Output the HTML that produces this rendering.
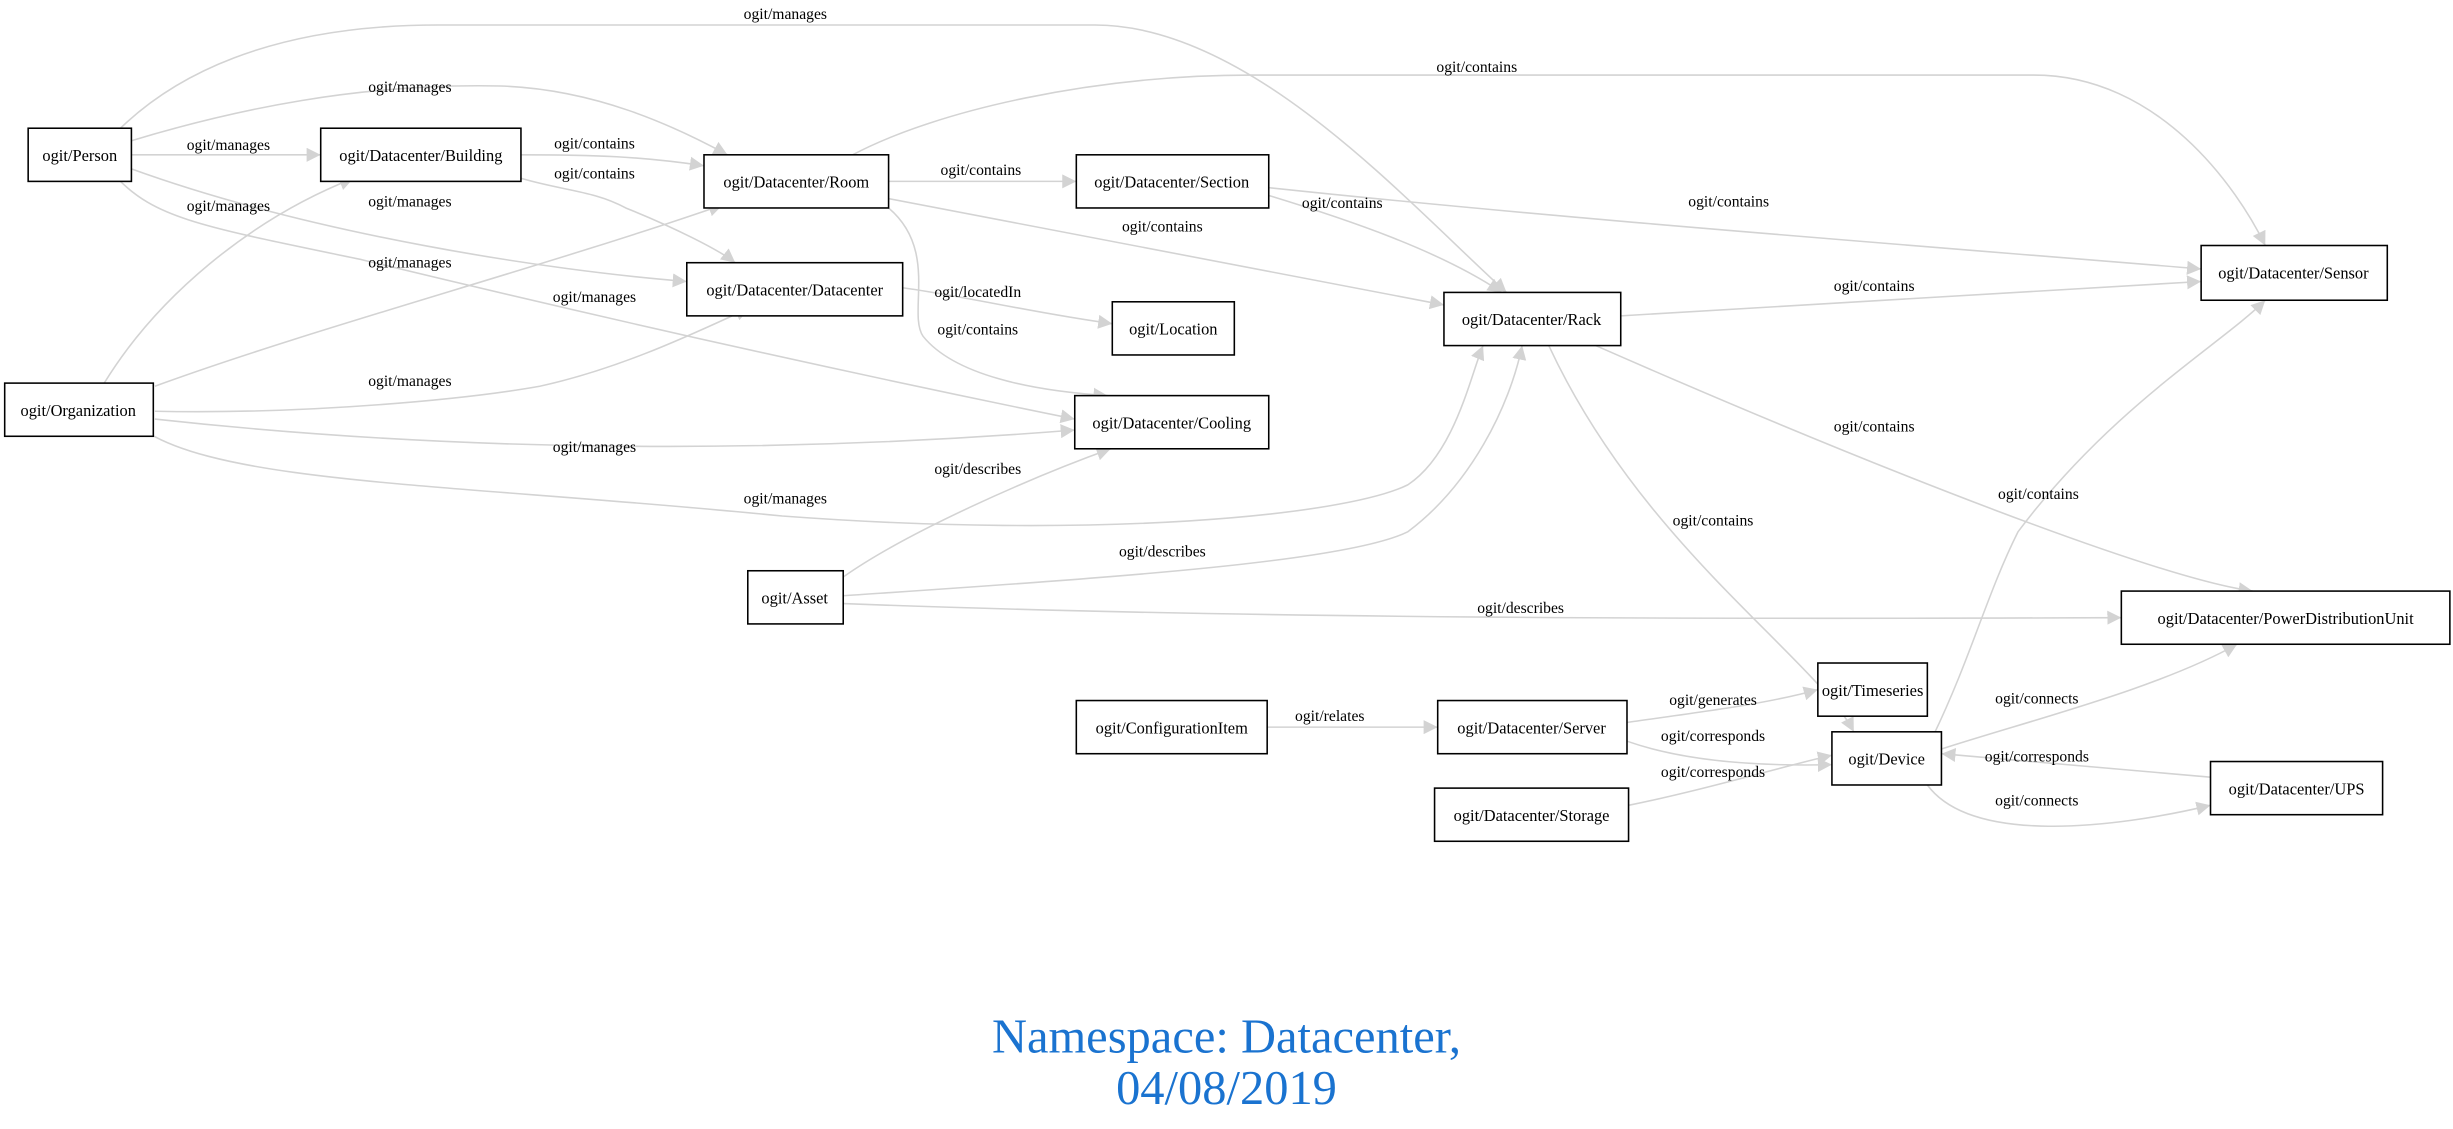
<!DOCTYPE html>
<html><head><meta charset="utf-8"><style>html,body{margin:0;padding:0;background:#fff}svg{display:block}</style></head><body>
<svg xmlns="http://www.w3.org/2000/svg" width="2453" height="1129" viewBox="0 0 1568 722" preserveAspectRatio="none">
<defs><marker id="a" viewBox="0 0 10 10" refX="10" refY="5" markerWidth="9" markerHeight="9" markerUnits="userSpaceOnUse" orient="auto"><path d="M0,0 L10,5 L0,10 z" fill="#d3d3d3"/></marker></defs>
<g fill="none" stroke="#d3d3d3" stroke-width="1" marker-end="url(#a)">
<path d="M77,82 C110,50 170,16 280,16 L700,16 C800,16 900,130 963,187"/>
<path d="M84,90 C150,70 230,53 320,55 C380,57 430,80 465,99"/>
<path d="M84,99 L205,99"/>
<path d="M333,99 C380,99 410,100 450,106"/>
<path d="M333,114 C360,122 380,122 400,133 C430,145 460,160 470,168"/>
<path d="M84,108 C200,150 350,173 439,180"/>
<path d="M75,114 C100,140 130,145 231,166 C330,190 500,230 687,268"/>
<path d="M66,246 C100,190 160,140 226,114"/>
<path d="M99,247 C200,210 350,170 462,131"/>
<path d="M99,263 C200,265 300,255 345,247 C400,235 450,210 479,197"/>
<path d="M99,268 C300,290 500,290 687,275"/>
<path d="M95,277 C150,310 300,310 500,330 C700,345 860,330 900,310 C930,290 940,240 948,221"/>
<path d="M545,99 C600,70 700,48 800,48 L1300,48 C1380,48 1430,120 1448,157"/>
<path d="M568,116 L688,116"/>
<path d="M568,127 L923,195"/>
<path d="M568,133 C600,160 580,200 590,215 C610,240 660,250 708,253"/>
<path d="M577,184 C620,190 660,200 711,207"/>
<path d="M811,125 C860,140 920,160 960,187"/>
<path d="M811,120 C1000,140 1200,155 1407,172"/>
<path d="M1036,202 L1407,180"/>
<path d="M1020,221 C1200,300 1380,370 1440,378"/>
<path d="M990,221 C1050,350 1160,420 1185,468"/>
<path d="M539,369 C580,340 660,305 710,287"/>
<path d="M539,381 C700,370 860,360 900,340 C940,310 965,260 973,221"/>
<path d="M539,386 C800,396 1100,396 1356,395"/>
<path d="M810,465 L919,465"/>
<path d="M1040,462 C1090,455 1130,450 1162,441"/>
<path d="M1040,474 C1080,488 1130,490 1171,489"/>
<path d="M1041,515 C1090,505 1140,490 1171,483"/>
<path d="M1413,497 L1241,482"/>
<path d="M1232,502 C1260,540 1350,530 1413,515"/>
<path d="M1241,479 C1300,460 1380,440 1430,412"/>
<path d="M1236,470 C1260,420 1270,380 1290,340 C1350,260 1420,220 1448,192"/>
</g>
<g fill="#fff" stroke="#000" stroke-width="1">
<rect x="18" y="82" width="66" height="34"/>
<rect x="205" y="82" width="128" height="34"/>
<rect x="450" y="99" width="118" height="34"/>
<rect x="688" y="99" width="123" height="34"/>
<rect x="439" y="168" width="138" height="34"/>
<rect x="711" y="193" width="78" height="34"/>
<rect x="923" y="187" width="113" height="34"/>
<rect x="1407" y="157" width="119" height="35"/>
<rect x="3" y="245" width="95" height="34"/>
<rect x="687" y="253" width="124" height="34"/>
<rect x="478" y="365" width="61" height="34"/>
<rect x="1356" y="378" width="210" height="34"/>
<rect x="1162" y="424" width="70" height="34"/>
<rect x="688" y="448" width="122" height="34"/>
<rect x="919" y="448" width="121" height="34"/>
<rect x="1171" y="468" width="70" height="34"/>
<rect x="1413" y="487" width="110" height="34"/>
<rect x="917" y="504" width="124" height="34"/>
</g>
<g font-family="Liberation Serif, serif" font-size="10.5" fill="#000" text-anchor="middle">
<text x="51" y="103">ogit/Person</text>
<text x="269" y="103">ogit/Datacenter/Building</text>
<text x="509" y="120">ogit/Datacenter/Room</text>
<text x="749" y="120">ogit/Datacenter/Section</text>
<text x="508" y="189">ogit/Datacenter/Datacenter</text>
<text x="750" y="214">ogit/Location</text>
<text x="979" y="208">ogit/Datacenter/Rack</text>
<text x="1466" y="178">ogit/Datacenter/Sensor</text>
<text x="50" y="266">ogit/Organization</text>
<text x="749" y="274">ogit/Datacenter/Cooling</text>
<text x="508" y="386">ogit/Asset</text>
<text x="1461" y="399">ogit/Datacenter/PowerDistributionUnit</text>
<text x="1197" y="445">ogit/Timeseries</text>
<text x="749" y="469">ogit/ConfigurationItem</text>
<text x="979" y="469">ogit/Datacenter/Server</text>
<text x="1206" y="489">ogit/Device</text>
<text x="1468" y="508">ogit/Datacenter/UPS</text>
<text x="979" y="525">ogit/Datacenter/Storage</text>
</g>
<g font-family="Liberation Serif, serif" font-size="10" fill="#000" text-anchor="middle">
<text x="502" y="12">ogit/manages</text>
<text x="262" y="59">ogit/manages</text>
<text x="146" y="96">ogit/manages</text>
<text x="380" y="95">ogit/contains</text>
<text x="380" y="114">ogit/contains</text>
<text x="146" y="135">ogit/manages</text>
<text x="262" y="132">ogit/manages</text>
<text x="262" y="171">ogit/manages</text>
<text x="380" y="193">ogit/manages</text>
<text x="262" y="247">ogit/manages</text>
<text x="380" y="289">ogit/manages</text>
<text x="502" y="322">ogit/manages</text>
<text x="944" y="46">ogit/contains</text>
<text x="627" y="112">ogit/contains</text>
<text x="743" y="148">ogit/contains</text>
<text x="858" y="133">ogit/contains</text>
<text x="1105" y="132">ogit/contains</text>
<text x="625" y="190">ogit/locatedIn</text>
<text x="625" y="214">ogit/contains</text>
<text x="1198" y="186">ogit/contains</text>
<text x="1198" y="276">ogit/contains</text>
<text x="1303" y="319">ogit/contains</text>
<text x="1095" y="336">ogit/contains</text>
<text x="625" y="303">ogit/describes</text>
<text x="743" y="356">ogit/describes</text>
<text x="972" y="392">ogit/describes</text>
<text x="850" y="461">ogit/relates</text>
<text x="1095" y="451">ogit/generates</text>
<text x="1095" y="474">ogit/corresponds</text>
<text x="1095" y="497">ogit/corresponds</text>
<text x="1302" y="450">ogit/connects</text>
<text x="1302" y="487">ogit/corresponds</text>
<text x="1302" y="515">ogit/connects</text>
</g>
<g font-family="Liberation Serif, serif" font-size="31" fill="#1a73d0" text-anchor="middle">
<text x="784" y="673">Namespace: Datacenter,</text>
<text x="784" y="706">04/08/2019</text>
</g>
</svg>
</body></html>
